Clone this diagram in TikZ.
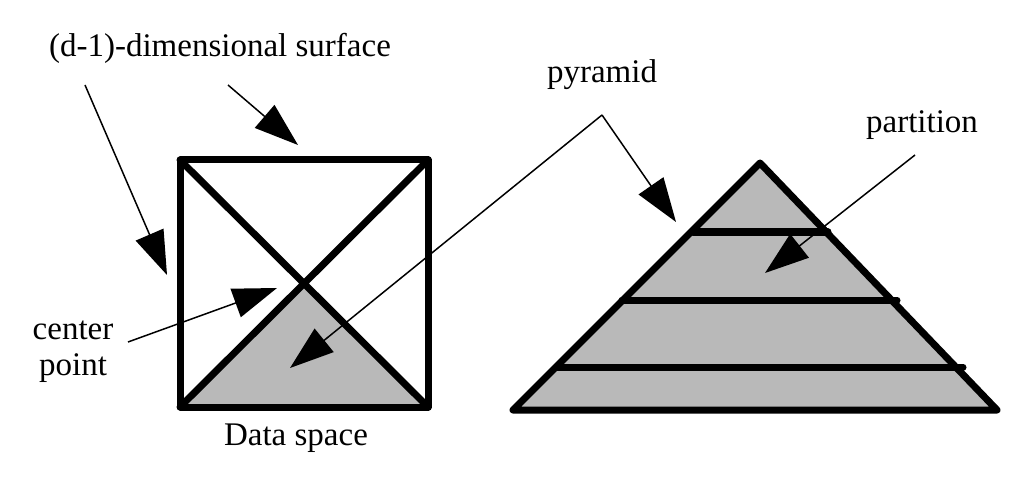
\documentclass[tikz,border=0pt]{standalone}
\usepackage{fontspec}
\setmainfont{Liberation Serif}
\usetikzlibrary{arrows.meta}
\begin{document}
\begin{tikzpicture}[x=1pt,y=-1pt,
  thickl/.style={line width=7pt,line cap=round,line join=round},
  ptr/.style={line width=1.5pt,-{Triangle[length=44pt,width=30pt]}},
  lbl/.style={font=\fontsize{33}{36}\selectfont,inner sep=0pt}]
\useasboundingbox (0,0) rectangle (1024,478);
\fill[gray!55] (180,407) -- (428,407) -- (304,283) -- cycle;
\draw[thickl] (180,160) rectangle (428,407);
\draw[thickl] (180,160) -- (428,407) (428,160) -- (180,407);
\fill[gray!55] (760,163) -- (997,410) -- (513,410) -- cycle;
\draw[thickl] (760,163) -- (997,410) -- (513,410) -- cycle;
\draw[thickl] (693,232) -- (828,232) (622,300) -- (897,300) (557,367) -- (963,367);
\node[lbl] (ds) at (220,48) {(d-1)-dimensional surface};
\node[lbl] (py) at (602,75) {pyramid};
\node[lbl] (pa) at (922,125) {partition};
\node[lbl,align=center] (cp) at (73,352) {center\\point};
\node[lbl] (da) at (296,438) {Data space};
\coordinate (a1) at (85,85); \coordinate (a1e) at (167,275);
\coordinate (a2) at (228,85); \coordinate (a2e) at (298,145);
\coordinate (p0) at (602,115); \coordinate (p1) at (290,368); \coordinate (p2) at (676,222);
\coordinate (q0) at (915,155); \coordinate (q1) at (765,273);
\coordinate (c0) at (128,342); \coordinate (c1) at (277,288);
\draw[ptr] (a1) -- (a1e);
\draw[ptr] (a2) -- (a2e);
\draw[ptr] (p0) -- (p1);
\draw[ptr] (p0) -- (p2);
\draw[ptr] (q0) -- (q1);
\draw[ptr] (c0) -- (c1);
\end{tikzpicture}
\end{document}
